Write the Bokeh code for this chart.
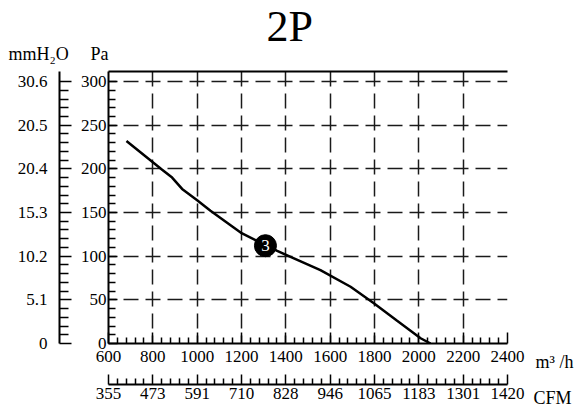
from bokeh.plotting import figure
from bokeh.models import LinearAxis, FixedTicker, Range1d, Label
from bokeh.embed import file_html
from bokeh.resources import INLINE
from bokeh.core.properties import value

# ---------------- data ----------------
flow_m3h = [681, 842, 887, 932, 1000, 1060, 1196, 1361, 1556, 1692, 1797, 1902, 2008, 2053]
static_pa = [232, 199, 190, 177, 164, 152, 127, 106, 84, 65, 46, 26, 6, 0]

point_flow = [1308]
point_pa = [112]
point_tag = ["3"]

flow_ticks = [600, 800, 1000, 1200, 1400, 1600, 1800, 2000, 2200, 2400]
cfm_labels = ["355", "473", "591", "710", "828", "946", "1065", "1183", "1301", "1420"]
pa_ticks = [0, 50, 100, 150, 200, 250, 300]
mmh2o_labels = ["0", "5.1", "10.2", "15.3", "20.4", "20.5", "30.6"]

title_text = "2P"
pa_unit = "Pa"
mm_unit = "mmH\u2082O"
flow_unit = "m\u00b3 /h"
cfm_unit = "CFM"

# --------------------------------------------------------------
FONT = "Liberation Serif"
TICK_SIZE = "17px"
flow_minor = [v for v in range(600, 2401, 40) if (v - 600) % 200]
pa_minor = [v for v in range(0, 301, 10) if v % 50]

p = figure(width=576, height=407, output_backend="svg", toolbar_location=None,
           x_range=Range1d(600, 2400), y_range=Range1d(0, 311.5),
           min_border_left=108, min_border_right=69, min_border_top=71,
           min_border_bottom=64, outline_line_color=None, title_location=None,
           background_fill_color="white", border_fill_color="white")

flow_axis = p.xaxis[0]
pa_axis = p.yaxis[0]
xgrid = p.xgrid[0]
ygrid = p.ygrid[0]


def style_axis(ax, major_in, minor_in, standoff):
    ax.axis_line_color = "black"
    ax.axis_line_width = 2
    ax.major_tick_in = major_in
    ax.major_tick_out = 0
    ax.minor_tick_in = minor_in
    ax.minor_tick_out = 0
    ax.major_tick_line_color = "black"
    ax.major_tick_line_width = 1.5
    ax.minor_tick_line_color = "black"
    ax.minor_tick_line_width = 1.5
    ax.major_label_text_font = FONT
    ax.major_label_text_font_size = TICK_SIZE
    ax.major_label_text_color = "black"
    ax.major_label_standoff = standoff


def unit_label(txt, x, y, size):
    return Label(x=x, y=y, x_units="screen", y_units="screen", text=txt,
                 text_font=FONT, text_font_size=size, text_color="black",
                 text_baseline="alphabetic", text_align="left")


# ---- left side: Pa axis, "Pa" text, mmH2O axis ----
pa_axis.ticker = FixedTicker(ticks=pa_ticks, minor_ticks=pa_minor)
style_axis(pa_axis, 9, 7, 2)

p.add_layout(unit_label(pa_unit, 31, 290, "18px"), "left")

mm_axis = LinearAxis(ticker=FixedTicker(ticks=pa_ticks, minor_ticks=pa_minor),
                     major_label_overrides=dict(zip(pa_ticks, mmh2o_labels)))
style_axis(mm_axis, 12, 9, 12)
p.add_layout(mm_axis, "left")

# ---- bottom: m3/h axis, unit text, CFM axis ----
flow_axis.ticker = FixedTicker(ticks=flow_ticks, minor_ticks=flow_minor)
style_axis(flow_axis, 11, 6, 7)
p.add_layout(unit_label(flow_unit, 427, 23, "18px"), "below")

cfm_axis = LinearAxis(ticker=FixedTicker(ticks=flow_ticks, minor_ticks=flow_minor),
                      major_label_overrides=dict(zip(flow_ticks, cfm_labels)))
style_axis(cfm_axis, 10, 6, 3)
p.add_layout(cfm_axis, "below")

# ---- top: border line, "mmH2O" text, title ----
top_axis = LinearAxis(ticker=FixedTicker(ticks=[]))
top_axis.axis_line_color = "black"
top_axis.axis_line_width = 2
top_axis.major_tick_in = 0
top_axis.major_tick_out = 0
top_axis.minor_tick_in = 0
top_axis.minor_tick_out = 0
top_axis.major_label_standoff = 0
p.add_layout(top_axis, "above")
p.add_layout(unit_label(mm_unit, -100, 18, "18px"), "above")
p.add_layout(unit_label(title_text, 158, 25, "44px"), "above")

# ---- right: CFM text ----
p.add_layout(unit_label(cfm_unit, 26, -54, "18px"), "right")

# dashed grid with crosses at intersections
for g, tk in ((xgrid, flow_ticks), (ygrid, pa_ticks)):
    g.ticker = FixedTicker(ticks=tk)
    g.grid_line_color = "#1a1a1a"
    g.grid_line_width = 1.5
    g.grid_line_dash = "15 7"
    g.grid_line_dash_offset = 7

# curve and operating point
p.line(flow_m3h, static_pa, line_color="black", line_width=2.5)
p.scatter(point_flow, point_pa, size=22, fill_color="black", line_color="black")
p.text(x=point_flow, y=point_pa, text=point_tag, text_color="white",
       text_align="center", text_baseline="middle",
       text_font=value(FONT), text_font_size="17px")

open("out.html", "w").write(file_html(p, INLINE))
